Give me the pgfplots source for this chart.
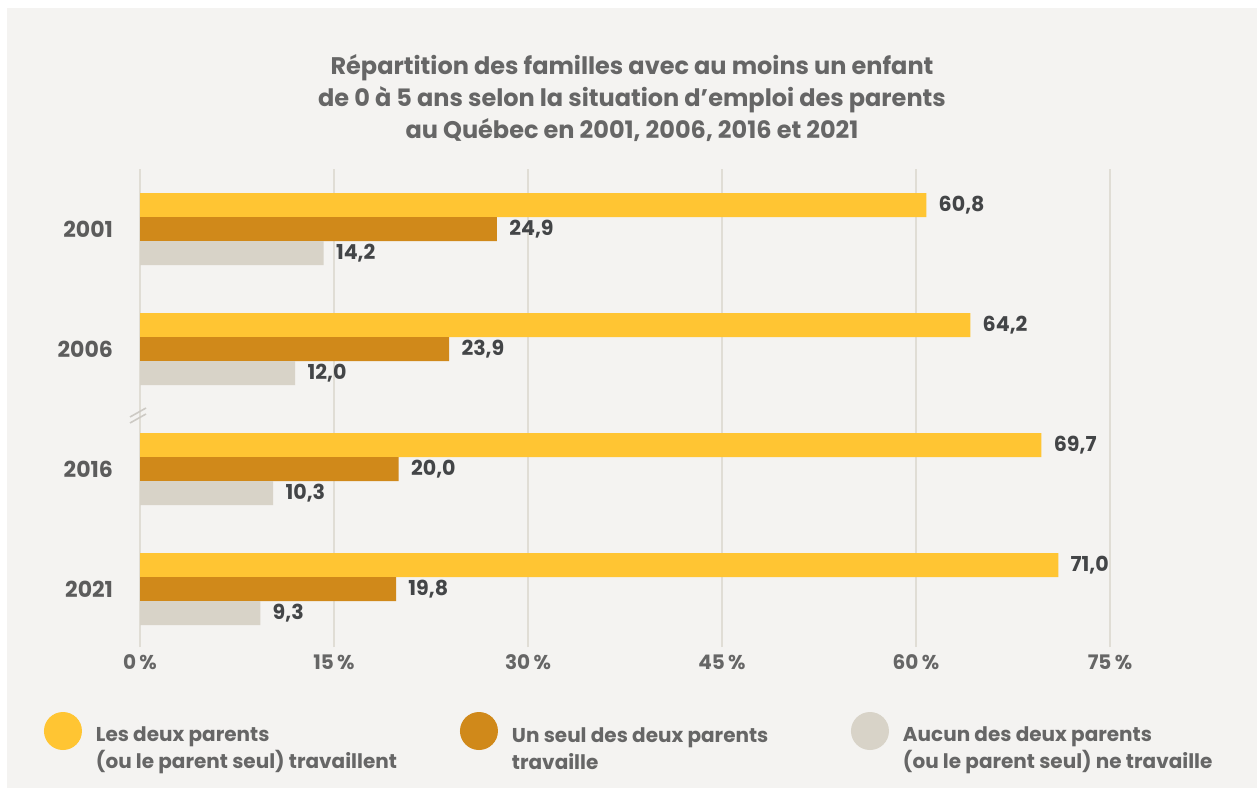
\documentclass[border=0pt]{standalone}
\usepackage{fontspec}
\setmainfont{Poppins}
\usepackage{pgfplots}
\pgfplotsset{compat=1.18}
\definecolor{bgc}{HTML}{F4F3F1}
\definecolor{gridc}{HTML}{E0DDD5}
\definecolor{cyellow}{HTML}{FFC533}
\definecolor{cdark}{HTML}{D0891A}
\definecolor{cgray}{HTML}{D8D3C8}
\definecolor{titlec}{HTML}{666666}
\definecolor{valc}{HTML}{434547}
\begin{document}
\begin{tikzpicture}
% background (1px = 0.5pt)
\fill[white] (0,0) rectangle (628.5pt,-395.5pt);
\fill[bgc] (3.5pt,-4pt) rectangle (628.5pt,-394pt);
\node[anchor=north, align=center, inner sep=0pt, text=titlec,
      font=\bfseries\fontsize{12}{16}\selectfont] at (316pt,-27pt)
  {Répartition des familles avec au moins un enfant\\
   de 0 à 5 ans selon la situation d’emploi des parents\\
   au Québec en 2001, 2006, 2016 et 2021};
\begin{axis}[
  at={(70pt,-323.5pt)}, anchor=south west,
  scale only axis, width=485pt, height=239pt,
  xbar, bar width=12pt,
  xmin=0, xmax=75, ymin=-0.4833, ymax=3.5,
  xtick={0,15,30,45,60,75},
  xticklabels={0\,\%,15\,\%,30\,\%,45\,\%,60\,\%,75\,\%},
  ytick={0,1,2,3},
  yticklabels={2021,2016,2006,2001},
  axis line style={draw=none},
  major tick length=0pt,
  xmajorgrids, ymajorgrids=false,
  major grid style={draw=gridc, line width=1pt},
  xticklabel style={anchor=base, yshift=-11pt, text=titlec,
    font=\bfseries\fontsize{10}{12}\selectfont},
  yticklabel style={anchor=east, xshift=-10pt, text=titlec!90!black,
    font=\bfseries\fontsize{11}{13}\selectfont},
  /pgf/number format/.cd, fixed, fixed zerofill, precision=1, use comma,
    assume math mode=true,
  /pgfplots/.cd,
  point meta=explicit,
  nodes near coords,
  nodes near coords style={anchor=west, inner sep=0pt, xshift=6pt,
    text=valc, font=\bfseries\fontsize{10.3}{12}\selectfont},
  legend columns=3,
  legend style={draw=none, fill=none, inner sep=0pt, outer sep=0pt,
    at={(-0.099,-0.136)}, anchor=north west,
    nodes={inner sep=0pt, text=titlec, font=\bfseries\fontsize{10}{13.5}\selectfont},
    /tikz/every odd column/.append style={column sep=7pt}},
  legend cell align=left,
]
\addplot[fill=cyellow, draw=none, bar shift=12pt,
  legend image code/.code={\fill[cyellow] (9.5pt,5.5pt) circle (9.5pt);}]
  coordinates {(60.8,3) [60.8] (64.2,2) [64.2] (69.7,1) [69.7] (71.0,0) [71.0]};
\addlegendentry{\parbox{182pt}{Les deux parents\\(ou le parent seul) travaillent}}
% the 2001 bar is drawn longer than its label in the source chart
\addplot[fill=cdark, draw=none, bar shift=0pt,
  legend image code/.code={\fill[cdark] (9.5pt,5.5pt) circle (9.5pt);}]
  coordinates {(27.6,3) [24.9] (23.9,2) [23.9] (20.0,1) [20.0] (19.8,0) [19.8]};
\addlegendentry{\parbox{169.5pt}{Un seul des deux parents\\travaille}}
\addplot[fill=cgray, draw=none, bar shift=-12pt,
  legend image code/.code={\fill[cgray] (9.5pt,5.5pt) circle (9.5pt);}]
  coordinates {(14.2,3) [14.2] (12.0,2) [12.0] (10.3,1) [10.3] (9.3,0) [9.3]};
\addlegendentry{\parbox{170pt}{Aucun des deux parents\\(ou le parent seul) ne travaille}}
\end{axis}
% axis break mark
\draw[gridc!80!gray, line width=0.8pt] (65pt,-208.5pt) -- (73pt,-204pt);
\draw[gridc!80!gray, line width=0.8pt] (65pt,-211.5pt) -- (73pt,-207pt);
\pgfresetboundingbox
\useasboundingbox (0,0) rectangle (628.5pt,-395.5pt);
\end{tikzpicture}
\end{document}
